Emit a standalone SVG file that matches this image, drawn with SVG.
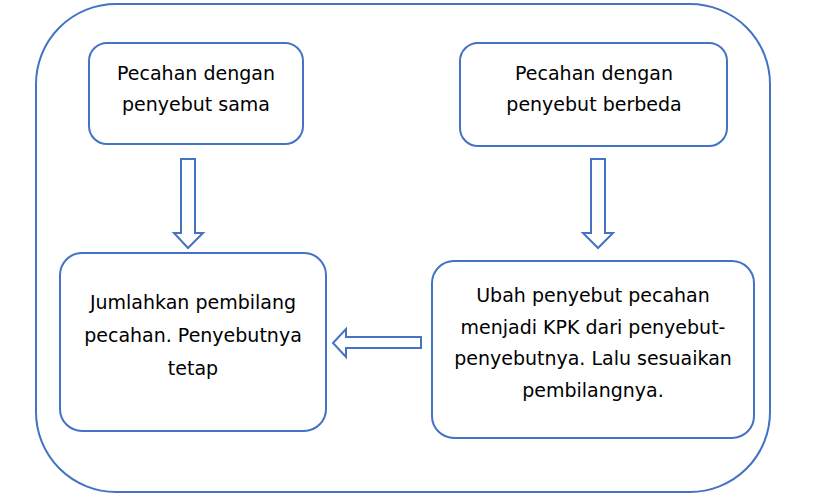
<svg xmlns="http://www.w3.org/2000/svg" width="829" height="498" viewBox="0 0 829 498">
<style>
.box{fill:#fff;stroke:#4472C4;stroke-width:2}
.arr{fill:#fff;stroke:#4472C4;stroke-width:2;stroke-linejoin:miter}
text{font-family:"DejaVu Sans","Noto Sans",sans-serif;font-size:19px;fill:#000;text-anchor:middle}
</style>
<rect width="829" height="498" fill="#fff"/>
<g id="frame"><rect class="box" x="36" y="4" width="734" height="488" rx="80" ry="80"/></g>
<g id="n1"><rect class="box" x="89" y="43" width="214" height="101" rx="18"/>
<text x="196" y="80">Pecahan dengan</text><text x="196" y="111">penyebut sama</text></g>
<g id="n2"><rect class="box" x="460" y="43" width="267" height="103" rx="18"/>
<text x="594" y="80">Pecahan dengan</text><text x="594" y="111">penyebut berbeda</text></g>
<g id="n3"><rect class="box" x="60" y="253" width="266" height="178" rx="22"/>
<text x="193" y="309">Jumlahkan pembilang</text><text x="193" y="342">pecahan. Penyebutnya</text><text x="193" y="375">tetap</text></g>
<g id="n4"><rect class="box" x="432" y="261" width="322" height="177" rx="22"/>
<text x="593" y="302">Ubah penyebut pecahan</text><text x="593" y="334">menjadi KPK dari penyebut-</text><text x="593" y="365">penyebutnya. Lalu sesuaikan</text><text x="593" y="397">pembilangnya.</text></g>
<g id="connectors">
<polygon class="arr" points="181,159 195,159 195,233 203,233 188,248 174,233 181,233"/>
<polygon class="arr" points="591,159 605,159 605,233 613,233 598,248 583,233 591,233"/>
<polygon class="arr" points="421,337 421,348 346,348 346,357 333,343 346,329 346,337"/>
</g>
</svg>
